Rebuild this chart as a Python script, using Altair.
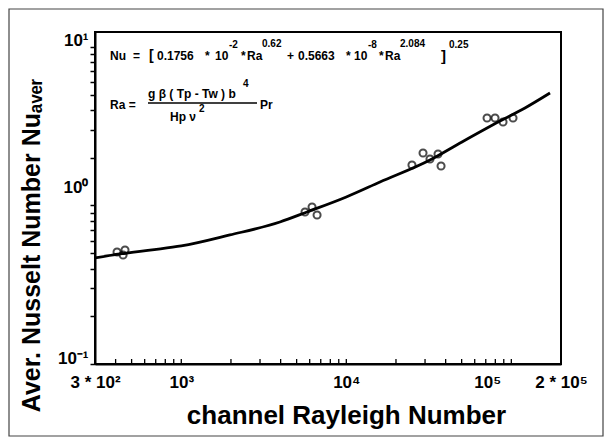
import altair as alt
import pandas as pd

# ---- data ----
curve_ra = [300, 425, 646, 1000, 1970, 3960, 5780, 10000, 16000, 32150, 48900, 85400, 121000, 171600]
curve_nu = [0.466, 0.494, 0.523, 0.555, 0.651, 0.786, 0.909, 1.13, 1.404, 1.933, 2.474, 3.405, 4.113, 5.113]

pts_ra = [408, 456, 444, 5620, 6200, 6650, 25000, 29170, 32150, 35960, 37510, 71270, 79670, 89080, 102400]
pts_nu = [0.508, 0.523, 0.487, 0.909, 0.977, 0.870, 1.797, 2.140, 1.962, 2.109, 1.772, 3.557, 3.557, 3.357, 3.557]

x_label_values = [300, 1000, 10000, 100000, 200000]
x_label_texts = ["3 * 10²", "10³", "10⁴", "10⁵", "2 * 10⁵"]
x_minor_ticks = [300, 400, 500, 600, 700, 800, 900,
                 1000, 2000, 3000, 4000, 5000, 6000, 7000, 8000, 9000,
                 10000, 20000, 30000, 40000, 50000, 60000, 70000, 80000, 90000,
                 100000, 200000]
y_tick_values = [0.1, 0.2, 0.3, 0.4, 0.5, 0.6, 0.7, 0.8, 0.9,
                 1, 2, 3, 4, 5, 6, 7, 8, 9, 10]
y_label_values = [0.1, 1, 10]
y_label_texts = ["10⁻¹", "10⁰", "10¹"]

FONT = "Liberation Sans"
W, H = 466, 332

xscale = alt.Scale(type="log", domain=[300, 200000], nice=False)
yscale = alt.Scale(type="log", domain=[0.1, 12.4], nice=False)


def label_expr(values, texts):
    parts = []
    for v, t in zip(values, texts):
        parts.append(f"datum.value == {v} ? '{t}' : ")
    return "".join(parts) + "''"


curve_df = pd.DataFrame({"Ra": curve_ra, "Nu": curve_nu})
pts_df = pd.DataFrame({"Ra": pts_ra, "Nu": pts_nu})
ticks_df = pd.DataFrame({"Ra": x_minor_ticks})
dummy = pd.DataFrame({"a": [0]})

x_axis = alt.Axis(
    values=x_label_values,
    labelExpr=label_expr(x_label_values, x_label_texts),
    ticks=False, grid=False,
    domainColor="black", domainWidth=2,
    labelFont=FONT, labelFontSize=17, labelFontWeight="bold", labelColor="black",
    labelPadding=10, labelFlush=False, labelOverlap=False,
    labelOffset={"condition": {"test": "datum.value == 100000", "value": -24}, "value": 0},
    title="channel Rayleigh Number",
    titleFont=FONT, titleFontSize=26, titleFontWeight="bold", titleColor="black",
    titleX=251, titleY=51, titleAlign="center", titleBaseline="middle",
)
y_axis = alt.Axis(
    values=y_tick_values,
    labelExpr=label_expr(y_label_values, y_label_texts),
    ticks=True, tickSize=5, tickColor="black", tickWidth=1.5, grid=False,
    domainColor="black", domainWidth=2,
    labelFont=FONT, labelFontSize=17, labelFontWeight="bold", labelColor="black",
    labelPadding=2, labelOverlap=False, labelFlush=False,
    labelOffset={"condition": {"test": "datum.value == 1", "value": -18}, "value": -6},
    title="Aver. Nusselt Number Nuₐᵥₑᵣ",
    titleFont=FONT, titleFontSize=25, titleFontWeight="bold", titleColor="black",
    titleX=-64, titleY=213, titleAngle=270, titleAlign="center", titleBaseline="middle",
)

line = alt.Chart(curve_df).mark_line(color="black", strokeWidth=2.8, interpolate="monotone").encode(
    x=alt.X("Ra:Q", scale=xscale, axis=x_axis),
    y=alt.Y("Nu:Q", scale=yscale, axis=y_axis),
)

points = alt.Chart(pts_df).mark_point(shape="circle", filled=False, color="black", size=50, strokeWidth=2).encode(
    x=alt.X("Ra:Q", scale=xscale),
    y=alt.Y("Nu:Q", scale=yscale),
)

xticks = alt.Chart(ticks_df).mark_rule(color="black", strokeWidth=1.3).encode(
    x=alt.X("Ra:Q", scale=xscale),
    y=alt.value(H), y2=alt.value(H - 5),
)

# annotation layout: (text, x, y, fontSize)
tokens = [
    ("Nu", 15, 24, 12), ("=", 38, 24, 12), ("[", 54, 24, 14), ("0.1756", 62, 24, 12),
    ("*", 110, 24, 12), ("10", 120, 24, 12), ("-2", 134, 13, 10), ("*", 146, 24, 12),
    ("Ra", 152, 24, 12), ("0.62", 167, 12, 10), ("+", 192, 24, 12), ("0.5663", 203, 24, 12),
    ("*", 251, 24, 12), ("10", 259, 24, 12), ("-8", 273, 13, 10), ("*", 284, 24, 12),
    ("Ra", 290, 24, 12), ("2.084", 305, 12, 10), ("]", 346, 24, 15), ("0.25", 354, 13, 10),
    ("Ra =", 15, 73, 12), ("g β ( Tp - Tw ) b", 53, 62, 12), ("4", 148, 52, 10),
    ("Hp ν", 75, 85, 12), ("2", 104, 77, 10), ("Pr", 165, 73, 12),
]

layers = [line, xticks, points]
for t, tx, ty, fs in tokens:
    layers.append(
        alt.Chart(dummy).mark_text(text=t, align="left", baseline="middle", font=FONT,
                                   fontSize=fs, fontWeight="bold", color="black").encode(
            x=alt.value(tx), y=alt.value(ty))
    )

frac = alt.Chart(dummy).mark_rule(color="black", strokeWidth=1.5).encode(
    x=alt.value(53), x2=alt.value(162), y=alt.value(71))
border = alt.Chart(dummy).mark_rect(fillOpacity=0, stroke="#444", strokeWidth=1.2).encode(
    x=alt.value(-86), x2=alt.value(508), y=alt.value(-23), y2=alt.value(404))
layers += [frac, border]

chart = alt.layer(*layers).properties(
    width=W, height=H,
    autosize=alt.AutoSizeParams(type="none"),
    padding={"left": 87, "top": 24, "right": 43, "bottom": 73},
    background="white",
).configure_view(stroke="black", strokeWidth=2)

chart.save("out.html", embed_options={"renderer": "svg", "actions": False})
